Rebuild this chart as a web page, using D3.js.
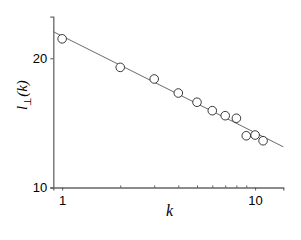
<!DOCTYPE html>
<html>
<head>
<meta charset="utf-8">
<script src="https://cdn.jsdelivr.net/npm/d3@7"></script>
<style>
  body { margin: 0; background: #fff; }
  svg { display: block; font-family: "Liberation Sans", Arial, sans-serif; }
  .axis-label { font-family: "Liberation Serif", "Times New Roman", serif; font-style: italic; }
</style>
</head>
<body>
<svg id="chart"></svg>
<script>
// measured points
const kValues = [1, 2, 3, 4, 5, 6, 7, 8, 9, 10, 11];
const lValues = [22.2, 19.05, 17.9, 16.6, 15.8, 15.1, 14.7, 14.5, 13.2, 13.25, 12.85];

// power-law fit, drawn between its two end points
const fitK = [0.9, 14];
const fitL = [23.07, 12.44];

// axis ticks
const xTicks = [1, 10];
const xMinorTicks = [2, 3, 4, 5, 6, 7, 8, 9];
const yTicks = [10, 20];

const canvWidth = 301;
const canvHeight = 240;
const margin = { top: 16.7, right: 17.7, bottom: 52.5, left: 53.3 };
const width = canvWidth - margin.left - margin.right;
const height = canvHeight - margin.top - margin.bottom;

const svg = d3.select("#chart")
    .attr("width", canvWidth)
    .attr("height", canvHeight)
    .append("g")
    .attr("transform", "translate(" + margin.left + "," + margin.top + ")");

const x = d3.scaleLog().domain([0.9, 14]).range([0, width]);
const y = d3.scaleLog().domain([10, 25]).range([height, 0]);

// fit line
const line = d3.line()
    .x(function (d) { return x(d[0]); })
    .y(function (d) { return y(d[1]); });

svg.append("path")
    .datum(d3.zip(fitK, fitL))
    .attr("d", line)
    .attr("fill", "none")
    .attr("stroke", "#444")
    .attr("stroke-width", 0.8);

// data circles
svg.selectAll(".pt")
    .data(d3.zip(kValues, lValues))
    .enter().append("circle")
    .attr("class", "pt")
    .attr("cx", function (d) { return x(d[0]); })
    .attr("cy", function (d) { return y(d[1]); })
    .attr("r", 4.3)
    .attr("fill", "#fff")
    .attr("stroke", "#222")
    .attr("stroke-width", 0.9);

// bottom axis
svg.append("g")
    .attr("transform", "translate(0," + height + ")")
    .call(d3.axisBottom(x).tickValues(xTicks).tickFormat(d3.format("d"))
        .tickSize(3).tickPadding(5));

svg.append("g")
    .attr("transform", "translate(0," + height + ")")
    .call(d3.axisTop(x).tickValues(xMinorTicks).tickFormat("").tickSize(2))
    .call(function (g) { g.select(".domain").remove(); });

// left axis
svg.append("g")
    .call(d3.axisLeft(y).tickValues(yTicks).tickFormat(d3.format("d"))
        .tickSize(3).tickPadding(3));

svg.selectAll(".domain")
    .attr("stroke", "#666")
    .attr("stroke-width", 1.3);
svg.selectAll(".tick line")
    .attr("stroke", "#555");
svg.selectAll(".tick text")
    .attr("fill", "#000")
    .style("font-size", "13px");

// axis labels
svg.append("text")
    .attr("class", "axis-label")
    .attr("x", x(3.6))
    .attr("y", height + 29)
    .attr("text-anchor", "middle")
    .style("font-size", "16px")
    .text("k");

const yLabel = svg.append("text")
    .attr("class", "axis-label")
    .attr("transform", "translate(" + (-26) + "," + (height / 2 - 7) + ") rotate(-90)")
    .attr("text-anchor", "middle")
    .style("font-size", "15px");
yLabel.append("tspan").text("l");
yLabel.append("tspan")
    .attr("dy", 4)
    .style("font-size", "10px")
    .style("font-style", "normal")
    .text("\u22A5");
yLabel.append("tspan")
    .attr("dy", -4)
    .text("(k)");
</script>
</body>
</html>
